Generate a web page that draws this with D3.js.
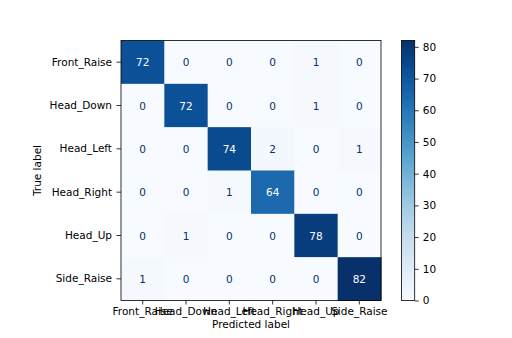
<!DOCTYPE html>
<html><head><meta charset="utf-8">
<script src="https://cdn.jsdelivr.net/npm/d3@7"></script>
<style>body{margin:0;background:#fff}svg{display:block}text{font-family:"DejaVu Sans",sans-serif}</style>
</head><body>
<script>
const classes = ["Front_Raise","Head_Down","Head_Left","Head_Right","Head_Up","Side_Raise"];
const row0 = [72,0,0,0,1,0];
const row1 = [0,72,0,0,1,0];
const row2 = [0,0,74,2,0,1];
const row3 = [0,0,1,64,0,0];
const row4 = [0,1,0,0,78,0];
const row5 = [1,0,0,0,0,82];
const matrix = [row0,row1,row2,row3,row4,row5];
const cbTicks = [0,10,20,30,40,50,60,70,80];

const W=512,H=338, fs=10.5;
const L=121, T=40.5, S=260;
const svg=d3.select("body").append("svg").attr("width",W).attr("height",H);
const x=d3.scaleBand().domain(classes).range([L,L+S]);
const y=d3.scaleBand().domain(classes).range([T,T+S]);
const vmax=d3.max(matrix.flat()), vmin=d3.min(matrix.flat());
const color=d3.scaleSequential(d3.interpolateBlues).domain([vmin,vmax]);
const thresh=(vmax+vmin)/2;

const cells=[];
matrix.forEach((r,i)=>r.forEach((v,j)=>cells.push({t:classes[i],p:classes[j],v})));
svg.append("g").selectAll("rect").data(cells).join("rect")
  .attr("x",d=>x(d.p)).attr("y",d=>y(d.t)).attr("width",x.bandwidth()+0.5).attr("height",y.bandwidth()+0.5)
  .attr("fill",d=>color(d.v));
svg.append("g").selectAll("text").data(cells).join("text")
  .attr("x",d=>x(d.p)+x.bandwidth()/2).attr("y",d=>y(d.t)+y.bandwidth()/2)
  .attr("text-anchor","middle").attr("dominant-baseline","central")
  .attr("font-size",fs).attr("fill",d=>d.v>thresh?"#ffffff":color(vmax))
  .text(d=>d.v);

const ax=svg.append("g").attr("transform",`translate(0,${T+S})`).call(d3.axisBottom(x).tickSize(4).tickPadding(3.5));
const ay=svg.append("g").attr("transform",`translate(${L},0)`).call(d3.axisLeft(y).tickSize(4.5).tickPadding(4.5));
[ax,ay].forEach(a=>{a.select(".domain").remove();a.selectAll("text").attr("font-size",fs).attr("fill","#000").attr("font-family","DejaVu Sans");a.selectAll("line").attr("stroke","#000").attr("stroke-width",0.8);});
svg.append("rect").attr("x",L).attr("y",T).attr("width",S).attr("height",S).attr("fill","none").attr("stroke","#000").attr("stroke-width",0.8);

svg.append("text").attr("x",(L+L+S)/2).attr("y",327.5).attr("text-anchor","middle").attr("font-size",fs).text("Predicted label");
svg.append("text").attr("transform",`translate(41,${T+S/2}) rotate(-90)`).attr("text-anchor","middle").attr("font-size",fs).text("True label");

// colorbar
const cbX=401.5, cbW=13.2;
const cy=d3.scaleLinear().domain([vmin,vmax]).range([T+S,T]);
const grad=svg.append("defs").append("linearGradient").attr("id","g").attr("x1",0).attr("y1",1).attr("x2",0).attr("y2",0);
d3.range(0,1.0001,0.02).forEach(t=>grad.append("stop").attr("offset",t).attr("stop-color",d3.interpolateBlues(t)));
svg.append("rect").attr("x",cbX).attr("y",T).attr("width",cbW).attr("height",S).attr("fill","url(#g)");
const ac=svg.append("g").attr("transform",`translate(${cbX+cbW},0)`).call(d3.axisRight(cy).tickValues(cbTicks).tickSize(4).tickPadding(4));
ac.select(".domain").remove();
ac.selectAll("text").attr("font-size",fs).attr("fill","#000").attr("font-family","DejaVu Sans");
ac.selectAll("line").attr("stroke","#000").attr("stroke-width",0.8);
svg.append("rect").attr("x",cbX).attr("y",T).attr("width",cbW).attr("height",S).attr("fill","none").attr("stroke","#000").attr("stroke-width",0.8);
</script>
</body></html>
